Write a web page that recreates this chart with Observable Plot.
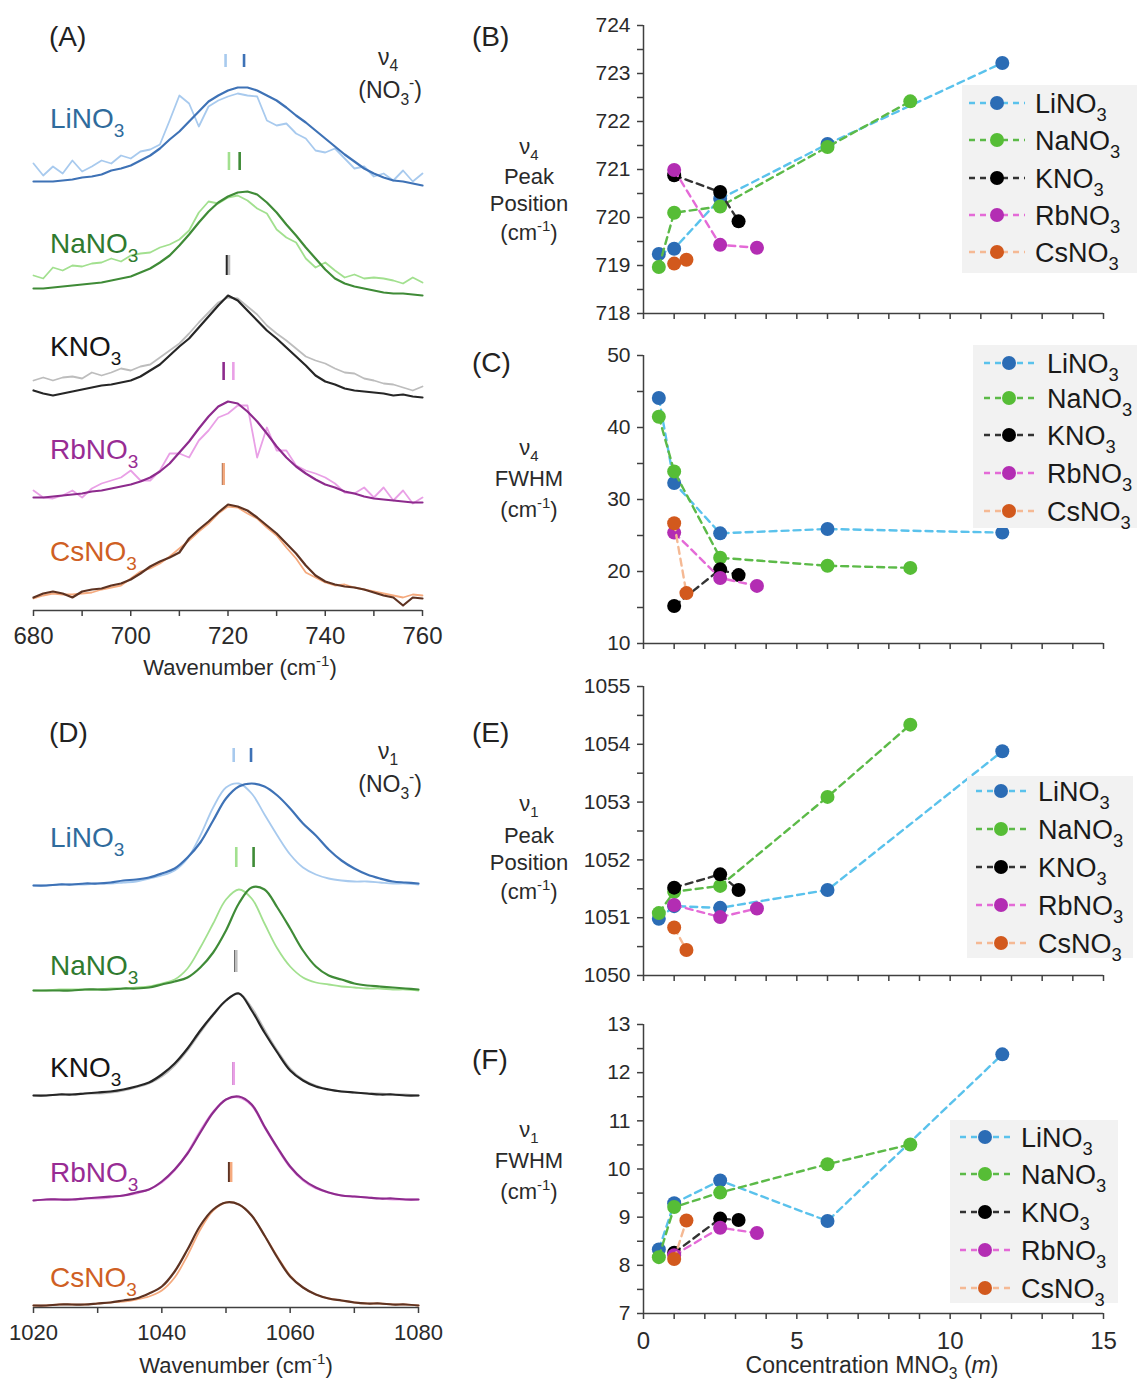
<!DOCTYPE html>
<html><head><meta charset="utf-8">
<script src="https://cdn.jsdelivr.net/npm/d3@7"></script>
<script src="https://cdn.jsdelivr.net/npm/@observablehq/plot@0.6"></script>
<style>
html,body{margin:0;padding:0;background:#fff;}
#fig{position:relative;width:1137px;height:1382px;background:#fff;overflow:hidden;}
#fig svg{position:absolute;overflow:visible;}
</style></head>
<body><div id="fig"></div>
<script>
// ---------------- DATA ----------------
const salts = ["LiNO3", "NaNO3", "KNO3", "RbNO3", "CsNO3"];
const saltStem = ["LiNO", "NaNO", "KNO", "RbNO", "CsNO"];

// Panel A: nu4 spectra (arbitrary intensity), wavenumber grid cm-1
const v4Grid = [680,682,684,686,688,690,692,694,696,698,700,702,704,706,708,710,712,714,716,718,720,722,724,726,728,730,732,734,736,738,740,742,744,746,748,750,752,754,756,758,760];
const v4LiLight = [0.20,0.08,0.17,0.10,0.23,0.12,0.17,0.23,0.20,0.28,0.25,0.32,0.34,0.39,0.63,0.88,0.80,0.57,0.77,0.83,0.87,0.90,0.88,0.87,0.63,0.58,0.60,0.50,0.45,0.33,0.31,0.35,0.25,0.15,0.17,0.07,0.10,0.03,0.13,0.02,0.10];
const v4LiDark  = [0.02,0.02,0.02,0.03,0.04,0.06,0.07,0.09,0.13,0.15,0.18,0.23,0.28,0.35,0.44,0.52,0.62,0.72,0.82,0.88,0.93,0.96,0.96,0.93,0.88,0.83,0.76,0.68,0.61,0.53,0.45,0.37,0.29,0.22,0.15,0.10,0.06,0.03,0.02,0.00,-0.02];
const v4NaLight = [0.15,0.12,0.23,0.20,0.25,0.24,0.27,0.28,0.32,0.29,0.35,0.37,0.38,0.43,0.46,0.51,0.60,0.78,0.89,0.87,0.93,0.95,0.90,0.82,0.77,0.61,0.53,0.48,0.32,0.23,0.28,0.20,0.13,0.16,0.12,0.13,0.12,0.10,0.07,0.13,0.08];
const v4NaDark  = [0.02,0.02,0.03,0.04,0.05,0.06,0.07,0.08,0.10,0.12,0.14,0.18,0.22,0.28,0.35,0.45,0.56,0.68,0.79,0.88,0.94,0.98,0.99,0.96,0.88,0.78,0.66,0.55,0.43,0.32,0.21,0.12,0.07,0.04,0.02,0.00,-0.02,-0.03,-0.03,-0.04,-0.05];
const v4KLight  = [0.13,0.16,0.13,0.16,0.17,0.15,0.21,0.18,0.21,0.25,0.23,0.27,0.29,0.36,0.43,0.50,0.60,0.71,0.81,0.91,0.96,0.95,0.87,0.79,0.68,0.60,0.53,0.45,0.37,0.33,0.30,0.25,0.21,0.20,0.15,0.13,0.10,0.09,0.06,0.03,0.07];
const v4KDark   = [0.03,0.00,-0.02,0.00,0.02,0.04,0.06,0.08,0.09,0.11,0.13,0.17,0.23,0.29,0.38,0.47,0.55,0.66,0.77,0.88,0.98,0.93,0.83,0.73,0.63,0.55,0.46,0.37,0.28,0.18,0.12,0.09,0.05,0.03,0.02,0.01,0.00,-0.02,-0.01,-0.03,-0.04];
const v4RbLight = [0.10,0.03,0.02,0.05,0.10,0.03,0.12,0.17,0.20,0.23,0.30,0.20,0.20,0.30,0.47,0.47,0.43,0.60,0.70,0.83,0.87,0.95,0.95,0.43,0.73,0.50,0.50,0.35,0.30,0.27,0.23,0.17,0.08,0.07,0.13,0.03,0.13,0.00,0.10,-0.03,0.03];
const v4RbDark  = [0.03,0.03,0.04,0.05,0.06,0.07,0.09,0.10,0.12,0.14,0.16,0.19,0.23,0.29,0.37,0.48,0.59,0.72,0.84,0.94,0.99,0.97,0.89,0.79,0.67,0.54,0.43,0.34,0.27,0.21,0.16,0.13,0.09,0.07,0.04,0.02,0.01,0.00,-0.01,-0.02,-0.02];
const v4CsLight = [0.00,0.03,0.05,0.04,0.04,0.05,0.06,0.09,0.11,0.13,0.20,0.27,0.30,0.35,0.42,0.50,0.58,0.67,0.75,0.85,0.92,0.91,0.85,0.80,0.71,0.63,0.51,0.40,0.26,0.21,0.16,0.13,0.14,0.11,0.09,0.07,0.05,0.03,0.01,0.04,0.03];
const v4CsDark  = [0.01,0.05,0.07,0.05,0.01,0.07,0.09,0.10,0.13,0.15,0.19,0.25,0.32,0.37,0.41,0.46,0.60,0.69,0.77,0.86,0.94,0.92,0.88,0.81,0.73,0.65,0.55,0.45,0.33,0.23,0.17,0.14,0.12,0.11,0.09,0.06,0.03,0.01,-0.07,0.01,0.00];
// peak-position tick marks above the nu4 spectra (cm-1)
const v4MarkLight = [719.5, 720.2, 720.2, 721.1, 719.1];
const v4MarkDark  = [723.3, 722.4, 719.8, 719.1, 719.0];

// Panel D: nu1 spectra
const v1Grid = [1020,1022,1024,1026,1028,1030,1032,1034,1036,1038,1040,1042,1044,1046,1048,1050,1052,1054,1056,1058,1060,1062,1064,1066,1068,1070,1072,1074,1076,1078,1080];
const v1LiLight = [0.00,0.00,0.01,0.01,0.01,0.02,0.02,0.03,0.04,0.07,0.10,0.15,0.27,0.50,0.78,0.98,1.02,0.92,0.71,0.50,0.31,0.18,0.11,0.07,0.05,0.04,0.04,0.03,0.02,0.02,0.01];
const v1LiDark  = [0.00,0.00,0.01,0.01,0.02,0.02,0.03,0.05,0.06,0.08,0.12,0.17,0.28,0.43,0.65,0.87,0.99,1.02,0.99,0.90,0.77,0.62,0.50,0.36,0.25,0.17,0.11,0.07,0.04,0.03,0.02];
const v1NaLight = [0.00,0.00,0.01,0.01,0.01,0.01,0.02,0.02,0.03,0.04,0.07,0.11,0.22,0.43,0.67,0.91,1.01,0.92,0.67,0.42,0.24,0.13,0.08,0.06,0.04,0.03,0.02,0.02,0.01,0.01,0.00];
const v1NaDark  = [0.00,0.00,0.00,0.00,0.01,0.01,0.01,0.02,0.02,0.03,0.06,0.09,0.13,0.23,0.38,0.60,0.87,1.03,1.01,0.83,0.62,0.40,0.24,0.15,0.11,0.07,0.05,0.04,0.03,0.02,0.01];
const v1KLight  = [0.00,0.00,0.01,0.01,0.02,0.02,0.03,0.05,0.08,0.12,0.19,0.30,0.45,0.63,0.80,0.95,1.02,0.88,0.66,0.45,0.27,0.16,0.10,0.06,0.04,0.03,0.02,0.02,0.01,0.01,0.00];
const v1KDark   = [0.00,0.00,0.01,0.01,0.02,0.03,0.04,0.06,0.09,0.13,0.21,0.32,0.47,0.65,0.81,0.95,1.02,0.85,0.63,0.43,0.25,0.15,0.09,0.06,0.04,0.03,0.02,0.01,0.01,0.00,0.00];
const v1RbLight = [0.00,0.01,0.01,0.01,0.02,0.02,0.03,0.05,0.07,0.11,0.18,0.30,0.48,0.70,0.89,1.01,1.03,0.95,0.73,0.52,0.33,0.20,0.12,0.08,0.05,0.04,0.03,0.02,0.01,0.01,0.01];
const v1RbDark  = [0.00,0.01,0.01,0.01,0.02,0.03,0.04,0.05,0.08,0.11,0.19,0.31,0.47,0.68,0.88,1.01,1.04,0.96,0.74,0.53,0.34,0.21,0.13,0.08,0.05,0.04,0.03,0.02,0.02,0.01,0.01];
const v1CsLight = [0.00,0.00,0.01,0.01,0.01,0.02,0.03,0.04,0.06,0.09,0.15,0.28,0.50,0.76,0.95,1.03,1.01,0.90,0.70,0.49,0.30,0.18,0.11,0.07,0.05,0.03,0.02,0.02,0.01,0.01,0.00];
const v1CsDark  = [0.00,0.00,0.01,0.01,0.01,0.02,0.03,0.05,0.07,0.12,0.19,0.34,0.56,0.80,0.96,1.03,1.01,0.90,0.70,0.48,0.29,0.18,0.11,0.07,0.05,0.03,0.02,0.02,0.01,0.01,0.00];
const v1MarkLight = [1051.2, 1051.6, 1051.6, 1051.2, 1050.8];
const v1MarkDark  = [1053.9, 1054.3, 1051.5, 1051.2, 1050.5];

// Panels B, C, E, F: concentration (m) and fitted values
const concLi = [0.5, 1, 2.5, 6, 11.7];
const concNa = [0.5, 1, 2.5, 6, 8.7];
const concK  = [1, 2.5, 3.1];
const concRb = [1, 2.5, 3.7];
const concCs = [1, 1.4];

const v4PosLi = [719.24, 719.35, 720.39, 721.53, 723.22];
const v4PosNa = [718.97, 720.10, 720.23, 721.47, 722.42];
const v4PosK  = [720.88, 720.53, 719.92];
const v4PosRb = [720.99, 719.43, 719.37];
const v4PosCs = [719.04, 719.12];

const v4FwhmLi = [44.1, 32.3, 25.3, 25.9, 25.4];
const v4FwhmNa = [41.5, 33.9, 21.9, 20.8, 20.5];
const v4FwhmK  = [15.2, 20.3, 19.5];
const v4FwhmRb = [25.4, 19.1, 18.0];
const v4FwhmCs = [26.7, 17.0];

const v1PosLi = [1050.98, 1051.20, 1051.17, 1051.48, 1053.88];
const v1PosNa = [1051.08, 1051.45, 1051.55, 1053.09, 1054.34];
const v1PosK  = [1051.52, 1051.75, 1051.48];
const v1PosRb = [1051.22, 1051.01, 1051.16];
const v1PosCs = [1050.83, 1050.44];

const v1FwhmLi = [8.33, 9.29, 9.76, 8.92, 12.38];
const v1FwhmNa = [8.17, 9.21, 9.51, 10.10, 10.51];
const v1FwhmK  = [8.26, 8.97, 8.94];
const v1FwhmRb = [8.21, 8.78, 8.67];
const v1FwhmCs = [8.13, 8.93];

// ---------------- STYLE ----------------
const FONT = '"Liberation Sans", Arial, Helvetica, sans-serif';
const AX = "#404040";
const TXT = "#2a2a2a";
const specLight = ["#a8caee", "#a2e08f", "#bdbdbd", "#e9a0e6", "#f5aa7e"];
const specDark  = ["#3e72b6", "#3f8b37", "#262626", "#8d2b8d", "#5e3322"];
const specLabel = ["#2f6b9c", "#2f7a2f", "#151515", "#982c94", "#cf5f24"];
const lineColors = ["#5ac2ec", "#5cba48", "#333333", "#e46ad7", "#f5b994"];
const dotColors  = ["#2b6cb5", "#56bd36", "#000000", "#b32db3", "#d2591d"];
// stacking offsets of the spectra (intensity units) and tick-mark extents above baselines
const v4Offset = [4.27, 3.20, 2.17, 1.10, 0.12];
const v1Offset = [4.22, 3.17, 2.12, 1.07, 0.02];
const v4BarLo = [1.16, 1.20, 1.18, 1.20, 1.13], v4BarHi = [1.29, 1.38, 1.38, 1.38, 1.35];
const v1BarLo = [1.23, 1.23, 1.23, 1.15, 1.23], v1BarHi = [1.37, 1.43, 1.45, 1.38, 1.43];

const fig = document.getElementById("fig");
function place(svg, left, top) {
  svg.style.left = left + "px"; svg.style.top = top + "px";
  fig.appendChild(svg); return svg;
}
function rich(svg, x, y, parts, o = {}) {
  const size = o.size || 20;
  const subShift = o.sub || 0.32;
  const t = d3.select(svg).append("text")
    .attr("x", x).attr("y", y).attr("fill", o.fill || TXT)
    .attr("font-size", size).attr("font-family", FONT)
    .attr("text-anchor", o.anchor || "start");
  let cur = 0;
  for (const p of parts) {
    const [s, k] = typeof p === "string" ? [p, "n"] : p;
    const ts = t.append("tspan").text(s);
    const target = k === "sub" ? size * subShift : k === "sup" ? -size * 0.42 : 0;
    if (target !== cur) { ts.attr("dy", target - cur); cur = target; }
    if (k === "sub" || k === "sup") ts.attr("font-size", size * 0.68);
    if (k === "i") ts.attr("font-style", "italic");
  }
  return t;
}
const baseStyle = {fontFamily: FONT, fontSize: "21px", color: AX, background: "none", overflow: "visible"};

// ---------------- SPECTRA PANELS ----------------
function spectra(cfg) {
  const marks = [
    Plot.ruleY([0], {stroke: AX, strokeWidth: 1.5}),
    Plot.axisX({ticks: cfg.ticks, tickSize: 6, tickPadding: cfg.pad, fontSize: cfg.fs, stroke: AX, strokeWidth: 1.5, fill: TXT, label: null,
      tickFormat: d => ((d - cfg.domain[0]) % 20 === 0 ? String(d) : "")})
  ];
  salts.forEach((s, i) => {
    const off = cfg.offsets[i];
    const lt = cfg.grid.map((w, j) => ({w, y: cfg.light[i][j] + off}));
    const dk = cfg.grid.map((w, j) => ({w, y: cfg.dark[i][j] + off}));
    marks.push(Plot.line(lt, {x: "w", y: "y", stroke: specLight[i], strokeWidth: 1.8, curve: cfg.curve}));
    marks.push(Plot.line(dk, {x: "w", y: "y", stroke: specDark[i], strokeWidth: 2.2, curve: cfg.curve}));
    marks.push(Plot.ruleX([{w: cfg.markDark[i], y1: off + cfg.lo[i], y2: off + cfg.hi[i]}], {x: "w", y1: "y1", y2: "y2", stroke: specDark[i], strokeWidth: 2.6}));
    marks.push(Plot.ruleX([{w: cfg.markLight[i], y1: off + cfg.lo[i], y2: off + cfg.hi[i]}], {x: "w", y1: "y1", y2: "y2", stroke: specLight[i], strokeWidth: 2.6}));
  });
  return Plot.plot({
    width: 440, height: cfg.height, marginLeft: 33, marginRight: cfg.mr, marginTop: 0, marginBottom: cfg.mb,
    x: {domain: cfg.domain}, y: {domain: [0, cfg.yMax], axis: null},
    style: baseStyle, marks
  });
}

const svgA = place(spectra({
  grid: v4Grid, light: [v4LiLight, v4NaLight, v4KLight, v4RbLight, v4CsLight],
  dark: [v4LiDark, v4NaDark, v4KDark, v4RbDark, v4CsDark],
  offsets: v4Offset, markLight: v4MarkLight, markDark: v4MarkDark, lo: v4BarLo, hi: v4BarHi,
  domain: [680, 760], ticks: [680,690,700,710,720,730,740,750,760], pad: 10, fs: 24,
  height: 690, mb: 80, mr: 18, yMax: 6.1, curve: "linear"
}), 0, 0);

const svgD = place(spectra({
  grid: v1Grid, light: [v1LiLight, v1NaLight, v1KLight, v1RbLight, v1CsLight],
  dark: [v1LiDark, v1NaDark, v1KDark, v1RbDark, v1CsDark],
  offsets: v1Offset, markLight: v1MarkLight, markDark: v1MarkDark, lo: v1BarLo, hi: v1BarHi,
  domain: [1020, 1080], ticks: [1020,1030,1040,1050,1060,1070,1080], pad: 11, fs: 22,
  height: 692, mb: 75, mr: 22, yMax: 6.17, curve: "catmull-rom"
}), 0, 690);

// labels in A
const labA = [128, 253, 356, 459, 561];
salts.forEach((s, i) => rich(svgA, 50, labA[i], [saltStem[i], ["3", "sub"]], {size: 28, fill: specLabel[i]}));
rich(svgA, 49, 46, ["(A)"], {size: 28, fill: "#222"});
rich(svgA, 388, 65, ["ν", ["4", "sub"]], {size: 23, fill: TXT, anchor: "middle", sub: 0.25});
rich(svgA, 422, 98, ["(NO", ["3", "sub"], ["-", "sup"], ")"], {size: 23, fill: TXT, anchor: "end"});
rich(svgA, 240, 675, ["Wavenumber (cm", ["-1", "sup"], ")"], {size: 22, fill: TXT, anchor: "middle"});

// labels in D (local y = abs - 690)
const labD = [847, 975, 1077, 1182, 1287];
salts.forEach((s, i) => rich(svgD, 50, labD[i] - 690, [saltStem[i], ["3", "sub"]], {size: 28, fill: specLabel[i]}));
rich(svgD, 49, 742 - 690, ["(D)"], {size: 28, fill: "#222"});
rich(svgD, 388, 759 - 690, ["ν", ["1", "sub"]], {size: 23, fill: TXT, anchor: "middle", sub: 0.25});
rich(svgD, 422, 792 - 690, ["(NO", ["3", "sub"], ["-", "sup"], ")"], {size: 23, fill: TXT, anchor: "end"});
rich(svgD, 236, 1373 - 690, ["Wavenumber (cm", ["-1", "sup"], ")"], {size: 22, fill: TXT, anchor: "middle"});

// ---------------- PARAMETER PANELS ----------------
const concs = [concLi, concNa, concK, concRb, concCs];
function paramPanel(cfg) {
  const marks = [
    Plot.ruleY([cfg.yDomain[0]], {stroke: AX, strokeWidth: 1.5}),
    Plot.ruleX([0], {stroke: AX, strokeWidth: 1.5}),
    Plot.axisY({ticks: cfg.yTicks, tickSize: 6, tickPadding: 7, fontSize: 21, stroke: AX, strokeWidth: 1.5, fill: TXT, label: null,
      tickFormat: cfg.yFormat}),
    Plot.axisX({ticks: [0,1,2,3,4,5,6,7,8,9,10,11,12,13,14,15], tickSize: 6, tickPadding: 12, fontSize: 24, stroke: AX, strokeWidth: 1.5, fill: TXT, label: null,
      tickFormat: d => (cfg.xLabels && d % 5 === 0 ? String(d) : "")})
  ];
  salts.forEach((s, i) => {
    const rows = concs[i].map((c, j) => ({c, v: cfg.values[i][j]}));
    marks.push(Plot.line(rows, {x: "c", y: "v", stroke: lineColors[i], strokeWidth: 2.4, strokeDasharray: "7,5"}));
    marks.push(Plot.dot(rows, {x: "c", y: "v", r: 7, fill: dotColors[i]}));
  });
  return Plot.plot({
    width: 697, height: cfg.height, marginLeft: 203, marginRight: 34, marginTop: cfg.mt, marginBottom: cfg.mb,
    x: {domain: [0, 15]}, y: {domain: cfg.yDomain},
    style: baseStyle, marks
  });
}
function legendBox(svg, top, b) {
  const g = d3.select(svg).append("g");
  g.append("rect").attr("x", b.x0 - 440).attr("y", b.y0 - top).attr("width", b.x1 - b.x0).attr("height", b.y1 - b.y0).attr("fill", "#f2f2f2");
  salts.forEach((s, i) => {
    const y = b.ys[i] - top;
    g.append("line").attr("x1", b.l0 - 440).attr("x2", b.l1 - 440).attr("y1", y).attr("y2", y)
      .attr("stroke", lineColors[i]).attr("stroke-width", 2.4).attr("stroke-dasharray", "6,5");
    g.append("circle").attr("cx", b.m - 440).attr("cy", y).attr("r", 7).attr("fill", dotColors[i]);
    rich(svg, b.t - 440, y + 10, [saltStem[i], ["3", "sub"]], {size: 27, fill: "#1a1a1a", sub: 0.3});
  });
}
const halfInt = (a, b) => d3.range(a, b + 0.001, 0.5);
const intFmt = d => (Number.isInteger(d) ? String(d) : "");

const svgB = place(paramPanel({height: 330, mt: 25, mb: 17, yDomain: [718, 724], yTicks: halfInt(718, 724), yFormat: intFmt,
  values: [v4PosLi, v4PosNa, v4PosK, v4PosRb, v4PosCs]}), 440, 0);
const svgC = place(paramPanel({height: 340, mt: 25, mb: 27, yDomain: [10, 50], yTicks: [10,15,20,25,30,35,40,45,50], yFormat: d => (d % 10 === 0 ? String(d) : ""),
  values: [v4FwhmLi, v4FwhmNa, v4FwhmK, v4FwhmRb, v4FwhmCs]}), 440, 330);
const svgE = place(paramPanel({height: 330, mt: 16, mb: 25, yDomain: [1050, 1055], yTicks: halfInt(1050, 1055), yFormat: intFmt,
  values: [v1PosLi, v1PosNa, v1PosK, v1PosRb, v1PosCs]}), 440, 670);
const svgF = place(paramPanel({height: 382, mt: 24, mb: 69, yDomain: [7, 13], yTicks: halfInt(7, 13), yFormat: intFmt, xLabels: true,
  values: [v1FwhmLi, v1FwhmNa, v1FwhmK, v1FwhmRb, v1FwhmCs]}), 440, 1000);

legendBox(svgB, 0, {x0: 962, x1: 1137, y0: 85, y1: 273, ys: [103, 140, 178, 215, 252], l0: 969, l1: 1025, m: 997, t: 1035});
legendBox(svgC, 330, {x0: 973, x1: 1137, y0: 345, y1: 528, ys: [363, 398, 435, 473, 511], l0: 984, l1: 1034, m: 1009, t: 1047});
legendBox(svgE, 670, {x0: 967, x1: 1133, y0: 776, y1: 958, ys: [791, 829, 867, 905, 943], l0: 976, l1: 1026, m: 1001, t: 1038});
legendBox(svgF, 1000, {x0: 950, x1: 1118, y0: 1120, y1: 1303, ys: [1137, 1174, 1212, 1250, 1288], l0: 960, l1: 1010, m: 985, t: 1021});

// panel letters and y labels
const yl = (svg, top, lines) => lines.forEach(([y, parts]) => rich(svg, 529 - 440, y - top, parts, {size: 22, fill: TXT, anchor: "middle", sub: 0.25}));
rich(svgB, 472 - 440, 46, ["(B)"], {size: 28, fill: "#222"});
yl(svgB, 0, [[154, ["ν", ["4", "sub"]]], [184, ["Peak"]], [211, ["Position"]], [240, ["(cm", ["-1", "sup"], ")"]]]);
rich(svgC, 472 - 440, 372 - 330, ["(C)"], {size: 28, fill: "#222"});
yl(svgC, 330, [[455, ["ν", ["4", "sub"]]], [486, ["FWHM"]], [517, ["(cm", ["-1", "sup"], ")"]]]);
rich(svgE, 472 - 440, 742 - 670, ["(E)"], {size: 28, fill: "#222"});
yl(svgE, 670, [[811, ["ν", ["1", "sub"]]], [843, ["Peak"]], [870, ["Position"]], [899, ["(cm", ["-1", "sup"], ")"]]]);
rich(svgF, 472 - 440, 1069 - 1000, ["(F)"], {size: 28, fill: "#222"});
yl(svgF, 1000, [[1137, ["ν", ["1", "sub"]]], [1168, ["FWHM"]], [1199, ["(cm", ["-1", "sup"], ")"]]]);
rich(svgF, 872 - 440, 1373 - 1000, ["Concentration MNO", ["3", "sub"], " (", ["m", "i"], ")"], {size: 23, fill: TXT, anchor: "middle", sub: 0.26});
</script>
</body></html>
